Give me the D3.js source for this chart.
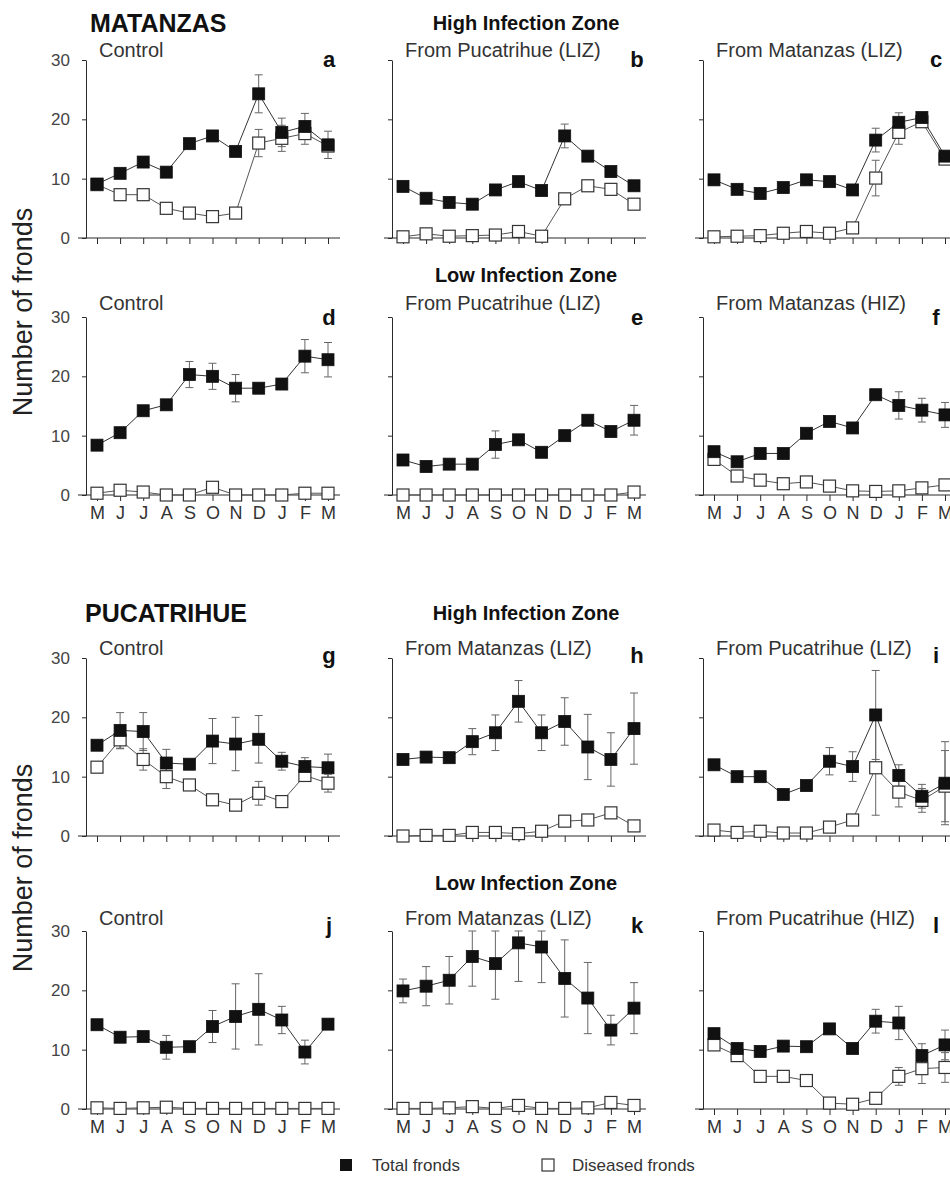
<!DOCTYPE html>
<html>
<head>
<meta charset="utf-8">
<script src="https://cdn.jsdelivr.net/npm/d3@7"></script>
<style>
  body { margin: 0; background: #fff; }
  svg { display: block; font-family: 'Liberation Sans', Arial, sans-serif; }
</style>
</head>
<body>
<svg id="chart"></svg>
<script>
const months = ['M', 'J', 'J', 'A', 'S', 'O', 'N', 'D', 'J', 'F', 'M'];
const yTicks = [0, 10, 20, 30];

// MATANZAS, high infection zone
const aTotal = [9.1, 10.9, 12.8, 11.1, 15.9, 17.2, 14.6, 24.3, 17.8, 18.8, 15.7];
const aDiseased = [9.0, 7.3, 7.3, 5.0, 4.2, 3.6, 4.2, 16.0, 16.8, 17.6, 15.5];
const aTotalErr = [0, 0, 0, 0, 0, 0, 0, 3.2, 2.4, 2.2, 2.3];
const aDiseasedErr = [0, 0, 0, 0, 0, 0, 0, 2.3, 2.2, 1.8, 0];

const bTotal = [8.7, 6.7, 6.0, 5.7, 8.1, 9.5, 8.0, 17.2, 13.8, 11.2, 8.8];
const bDiseased = [0.2, 0.7, 0.3, 0.4, 0.5, 1.1, 0.3, 6.6, 8.8, 8.2, 5.7];
const bTotalErr = [0, 0, 0, 0, 0, 0, 0, 2.0, 0, 0, 0];
const bDiseasedErr = [0, 0, 0, 0, 0, 0, 0, 0, 0, 0, 0];

const cTotal = [9.8, 8.2, 7.5, 8.5, 9.8, 9.5, 8.1, 16.5, 19.5, 20.3, 13.8];
const cDiseased = [0.2, 0.3, 0.4, 0.8, 1.1, 0.8, 1.7, 10.1, 17.8, 19.6, 13.3];
const cTotalErr = [0, 0, 0, 0, 0, 0, 0, 2.0, 1.6, 0, 0];
const cDiseasedErr = [0, 0, 0, 0, 0, 0, 0, 3.0, 2.0, 0, 0];

// MATANZAS, low infection zone
const dTotal = [8.4, 10.5, 14.2, 15.2, 20.3, 20.0, 18.0, 18.0, 18.7, 23.4, 22.8];
const dDiseased = [0.3, 0.8, 0.5, 0, 0, 1.3, 0, 0, 0, 0.3, 0.3];
const dTotalErr = [0, 0, 0, 0, 2.2, 2.2, 2.3, 0, 0, 2.8, 2.9];
const dDiseasedErr = [0, 0, 0, 0, 0, 0, 0, 0, 0, 0, 0];

const eTotal = [5.9, 4.8, 5.2, 5.2, 8.5, 9.3, 7.2, 10.0, 12.6, 10.7, 12.6];
const eDiseased = [0, 0, 0, 0, 0, 0, 0, 0, 0, 0, 0.5];
const eTotalErr = [0, 0, 0, 0, 2.3, 0, 0, 0, 0, 0, 2.5];
const eDiseasedErr = [0, 0, 0, 0, 0, 0, 0, 0, 0, 0, 0];

const fTotal = [7.3, 5.6, 7.0, 7.0, 10.4, 12.4, 11.3, 16.9, 15.1, 14.3, 13.5];
const fDiseased = [6.0, 3.2, 2.5, 1.9, 2.2, 1.5, 0.7, 0.6, 0.7, 1.2, 1.7];
const fTotalErr = [0, 0, 0, 0, 0, 0, 0, 0, 2.3, 2.0, 2.1];
const fDiseasedErr = [0, 0, 0, 0, 0, 0, 0, 0, 0, 0, 0];

// PUCATRIHUE, high infection zone
const gTotal = [15.3, 17.8, 17.6, 12.3, 12.1, 16.0, 15.5, 16.3, 12.6, 11.7, 11.5];
const gDiseased = [11.6, 16.2, 12.9, 10.0, 8.6, 6.1, 5.2, 7.2, 5.8, 10.2, 8.9];
const gTotalErr = [0, 3.0, 3.2, 2.3, 0, 3.8, 4.5, 4.0, 1.5, 1.5, 2.3];
const gDiseasedErr = [0, 1.5, 1.8, 2.0, 0, 0, 0, 2.0, 0, 1.0, 1.5];

const hTotal = [12.9, 13.3, 13.2, 15.9, 17.4, 22.7, 17.4, 19.3, 15.0, 12.9, 18.1];
const hDiseased = [0, 0.1, 0.1, 0.6, 0.6, 0.4, 0.8, 2.5, 2.7, 3.9, 1.7];
const hTotalErr = [0, 0, 0, 2.2, 3.0, 3.5, 3.0, 4.0, 5.5, 4.5, 6.0];
const hDiseasedErr = [0, 0, 0, 0, 0, 0, 0, 0, 0, 0, 0];

const iTotal = [12.0, 10.0, 10.0, 7.0, 8.5, 12.6, 11.7, 20.4, 10.2, 6.7, 8.9];
const iDiseased = [1.0, 0.6, 0.8, 0.5, 0.5, 1.5, 2.7, 11.5, 7.4, 6.0, 8.4];
const iTotalErr = [0, 0, 0, 0, 0, 2.3, 2.5, 7.5, 1.8, 2.0, 7.0];
const iDiseasedErr = [0, 0, 0, 0, 0, 0, 0, 8.0, 2.5, 2.0, 6.0];

// PUCATRIHUE, low infection zone
const jTotal = [14.2, 12.1, 12.2, 10.4, 10.5, 13.9, 15.6, 16.8, 15.0, 9.6, 14.3];
const jDiseased = [0.2, 0.1, 0.2, 0.3, 0.1, 0.1, 0.1, 0.1, 0.1, 0.1, 0.1];
const jTotalErr = [0, 0, 0, 2.0, 0, 2.7, 5.5, 6.0, 2.3, 2.0, 0];
const jDiseasedErr = [0, 0, 0, 0, 0, 0, 0, 0, 0, 0, 0];

const kTotal = [19.9, 20.7, 21.7, 25.7, 24.5, 28.0, 27.3, 22.0, 18.7, 13.3, 17.0];
const kDiseased = [0.1, 0.1, 0.2, 0.4, 0.1, 0.6, 0.1, 0.1, 0.2, 1.1, 0.6];
const kTotalErr = [2.0, 3.3, 4.0, 5.0, 6.0, 6.5, 6.0, 6.5, 6.0, 2.5, 4.3];
const kDiseasedErr = [0, 0, 0, 0, 0, 0, 0, 0, 0, 0, 0];

const lTotal = [12.7, 10.2, 9.7, 10.6, 10.5, 13.5, 10.2, 14.8, 14.5, 9.0, 10.8];
const lDiseased = [10.8, 9.0, 5.5, 5.5, 4.8, 1.0, 0.8, 1.8, 5.5, 6.8, 7.0];
const lTotalErr = [0, 0, 0, 0, 0, 0, 0, 2.0, 2.8, 2.0, 2.5];
const lDiseasedErr = [0, 0, 0, 0, 0, 0, 0, 0, 1.5, 2.5, 2.5];

const panels = [
  { id: 'a', row: 0, col: 0, sub: 'Control', total: aTotal, diseased: aDiseased, tErr: aTotalErr, dErr: aDiseasedErr },
  { id: 'b', row: 0, col: 1, sub: 'From Pucatrihue (LIZ)', total: bTotal, diseased: bDiseased, tErr: bTotalErr, dErr: bDiseasedErr },
  { id: 'c', row: 0, col: 2, sub: 'From Matanzas (LIZ)', total: cTotal, diseased: cDiseased, tErr: cTotalErr, dErr: cDiseasedErr },
  { id: 'd', row: 1, col: 0, sub: 'Control', total: dTotal, diseased: dDiseased, tErr: dTotalErr, dErr: dDiseasedErr },
  { id: 'e', row: 1, col: 1, sub: 'From Pucatrihue (LIZ)', total: eTotal, diseased: eDiseased, tErr: eTotalErr, dErr: eDiseasedErr },
  { id: 'f', row: 1, col: 2, sub: 'From Matanzas (HIZ)', total: fTotal, diseased: fDiseased, tErr: fTotalErr, dErr: fDiseasedErr },
  { id: 'g', row: 2, col: 0, sub: 'Control', total: gTotal, diseased: gDiseased, tErr: gTotalErr, dErr: gDiseasedErr },
  { id: 'h', row: 2, col: 1, sub: 'From Matanzas (LIZ)', total: hTotal, diseased: hDiseased, tErr: hTotalErr, dErr: hDiseasedErr },
  { id: 'i', row: 2, col: 2, sub: 'From Pucatrihue (LIZ)', total: iTotal, diseased: iDiseased, tErr: iTotalErr, dErr: iDiseasedErr },
  { id: 'j', row: 3, col: 0, sub: 'Control', total: jTotal, diseased: jDiseased, tErr: jTotalErr, dErr: jDiseasedErr },
  { id: 'k', row: 3, col: 1, sub: 'From Matanzas (LIZ)', total: kTotal, diseased: kDiseased, tErr: kTotalErr, dErr: kDiseasedErr },
  { id: 'l', row: 3, col: 2, sub: 'From Pucatrihue (HIZ)', total: lTotal, diseased: lDiseased, tErr: lTotalErr, dErr: lDiseasedErr },
];

const siteTitles = ['MATANZAS', 'PUCATRIHUE'];
const zoneTitles = ['High Infection Zone', 'Low Infection Zone', 'High Infection Zone', 'Low Infection Zone'];
const legendLabels = ['Total fronds', 'Diseased fronds'];

// layout
const W = 950, H = 1183;
const colX = [86, 392, 703];
const rowZero = [238, 495, 836, 1109];
const plotH = 178;
const zoneDy = [-30, -35, -38, -41];
const subDy = [-3, -7, -3, -6];
const letterDy = [7, 8, 5, 2];
const letterDx = [243, 245, 233];
const SQ = 12;
const ink = '#2a2a2a';

const svg = d3.select('#chart').attr('width', W).attr('height', H);
svg.append('rect').attr('width', W).attr('height', H).attr('fill', '#fff');

const x = d3.scalePoint().domain(d3.range(months.length)).range([11, 242]);
const y = d3.scaleLinear().domain([0, 30]).range([plotH, 0]);

panels.forEach(p => {
  const top = rowZero[p.row] - plotH;
  const g = svg.append('g').attr('transform', `translate(${colX[p.col]},${top})`);
  const showMonths = p.row === 1 || p.row === 3;

  // x axis
  const xa = g.append('g')
    .attr('transform', `translate(0,${plotH})`)
    .call(d3.axisBottom(x).tickSize(6).tickSizeOuter(0).tickPadding(5)
      .tickFormat(i => (showMonths ? months[i] : '')));
  xa.select('.domain').attr('d', 'M-8,0H254');
  xa.selectAll('line,path').attr('stroke', ink);
  xa.selectAll('text').attr('font-size', 18).attr('fill', '#333');

  // y axis
  const ya = g.append('g')
    .call(d3.axisLeft(y).tickValues(yTicks).tickSize(4).tickSizeOuter(0).tickPadding(12)
      .tickFormat(v => (p.col === 0 ? v : '')));
  ya.selectAll('line,path').attr('stroke', ink);
  ya.selectAll('text').attr('font-size', 17).attr('fill', '#444');

  // error bars
  const bars = [];
  p.tErr.forEach((e, i) => { if (e > 0) bars.push({ i, v: p.total[i], e }); });
  p.dErr.forEach((e, i) => { if (e > 0) bars.push({ i, v: p.diseased[i], e }); });
  const eb = g.append('g').attr('stroke', '#666').attr('stroke-width', 1).attr('fill', 'none');
  bars.forEach(b => {
    const cx = x(b.i);
    const hi = y(Math.min(30, b.v + b.e));
    const lo = y(Math.max(0, b.v - b.e));
    eb.append('line').attr('x1', cx).attr('x2', cx).attr('y1', hi).attr('y2', lo);
    eb.append('line').attr('x1', cx - 4).attr('x2', cx + 4).attr('y1', hi).attr('y2', hi);
    eb.append('line').attr('x1', cx - 4).attr('x2', cx + 4).attr('y1', lo).attr('y2', lo);
  });

  // lines
  const line = d3.line().x((d, i) => x(i)).y(d => y(d));
  g.append('path').datum(p.diseased).attr('d', line)
    .attr('fill', 'none').attr('stroke', '#555').attr('stroke-width', 1);
  g.append('path').datum(p.total).attr('d', line)
    .attr('fill', 'none').attr('stroke', '#333').attr('stroke-width', 1);

  // markers
  g.append('g').selectAll('rect').data(p.diseased).join('rect')
    .attr('x', (d, i) => x(i) - SQ / 2).attr('y', d => y(d) - SQ / 2)
    .attr('width', SQ).attr('height', SQ)
    .attr('fill', '#fff').attr('stroke', '#333').attr('stroke-width', 1.2);
  g.append('g').selectAll('rect').data(p.total).join('rect')
    .attr('x', (d, i) => x(i) - SQ / 2).attr('y', d => y(d) - SQ / 2)
    .attr('width', SQ).attr('height', SQ)
    .attr('fill', '#111').attr('stroke', '#111').attr('stroke-width', 0.8);

  // subtitle and panel letter
  g.append('text').attr('x', 13).attr('y', subDy[p.row])
    .attr('font-size', 20).attr('fill', '#333').text(p.sub);
  g.append('text').attr('x', letterDx[p.col]).attr('y', letterDy[p.row])
    .attr('text-anchor', 'middle').attr('font-size', 22).attr('font-weight', 'bold')
    .attr('fill', '#111').text(p.id);

  // zone header above middle column
  if (p.col === 1) {
    g.append('text').attr('x', 134).attr('y', zoneDy[p.row])
      .attr('text-anchor', 'middle').attr('font-size', 20).attr('font-weight', 'bold')
      .attr('fill', '#111').text(zoneTitles[p.row]);
  }
});

// site titles
svg.append('text').attr('x', 90).attr('y', 32)
  .attr('font-size', 25).attr('font-weight', 'bold').attr('fill', '#111').text(siteTitles[0]);
svg.append('text').attr('x', 85).attr('y', 622)
  .attr('font-size', 25).attr('font-weight', 'bold').attr('fill', '#111').text(siteTitles[1]);

// y axis labels
[312, 868].forEach(cy => {
  svg.append('text')
    .attr('transform', `translate(32,${cy}) rotate(-90)`)
    .attr('text-anchor', 'middle').attr('font-size', 27).attr('fill', '#222')
    .text('Number of fronds');
});

// legend
const lg = svg.append('g').attr('transform', 'translate(0,1165)');
lg.append('rect').attr('x', 340).attr('y', -6).attr('width', SQ).attr('height', SQ).attr('fill', '#111');
lg.append('text').attr('x', 372).attr('y', 6).attr('font-size', 17).attr('fill', '#333').text(legendLabels[0]);
lg.append('rect').attr('x', 542).attr('y', -6).attr('width', SQ).attr('height', SQ)
  .attr('fill', '#fff').attr('stroke', '#333').attr('stroke-width', 1.2);
lg.append('text').attr('x', 572).attr('y', 6).attr('font-size', 17).attr('fill', '#333').text(legendLabels[1]);
</script>
</body>
</html>
